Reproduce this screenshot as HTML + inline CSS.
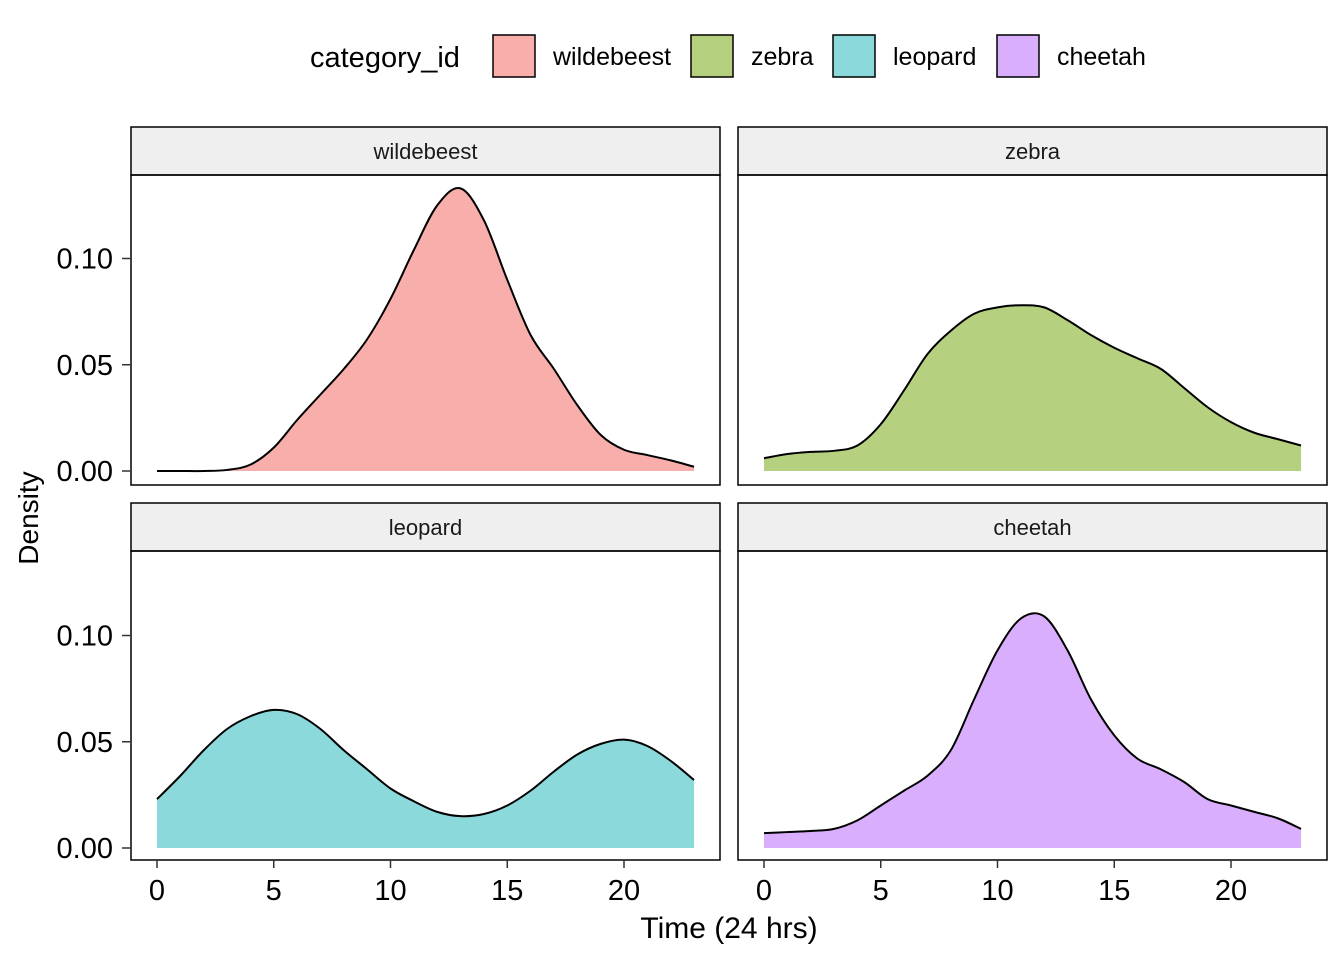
<!DOCTYPE html>
<html><head><meta charset="utf-8"><style>
body{margin:0;background:#fff}
svg{font-family:"Liberation Sans",Arial,sans-serif}
</style></head><body>
<svg id="chart" width="1344" height="960" viewBox="0 0 1344 960"></svg>
<script>
const categories=["wildebeest","zebra","leopard","cheetah"];
const hours=[0,1,2,3,4,5,6,7,8,9,10,11,12,13,14,15,16,17,18,19,20,21,22,23];
const wildebeest=[0,0,0,0.0005,0.003,0.011,0.024,0.036,0.048,0.062,0.081,0.104,0.125,0.133,0.118,0.090,0.064,0.048,0.031,0.017,0.010,0.0075,0.005,0.002];
const zebra=[0.006,0.008,0.009,0.0095,0.012,0.022,0.038,0.055,0.066,0.074,0.077,0.078,0.077,0.071,0.064,0.058,0.053,0.048,0.039,0.030,0.023,0.018,0.015,0.012];
const leopard=[0.023,0.034,0.046,0.056,0.062,0.065,0.063,0.056,0.046,0.037,0.028,0.022,0.017,0.015,0.016,0.020,0.027,0.036,0.044,0.049,0.051,0.048,0.041,0.032];
const cheetah=[0.007,0.0075,0.008,0.009,0.013,0.020,0.027,0.034,0.046,0.070,0.093,0.108,0.109,0.093,0.070,0.053,0.042,0.037,0.031,0.023,0.020,0.017,0.014,0.009];
const series=[wildebeest,zebra,leopard,cheetah];
const colors=["#F8AEAB","#B5D07F","#8BD9DB","#D9AEFD"];
const yTicks=[0,0.05,0.10];
const yTickLabels=["0.00","0.05","0.10"];
const xTicks=[0,5,10,15,20];

const svg=document.getElementById('chart');
const NS="http://www.w3.org/2000/svg";
function mk(tag,attrs,parent){const e=document.createElementNS(NS,tag);for(const k in attrs)e.setAttribute(k,attrs[k]);(parent||svg).appendChild(e);return e;}

const panels=[{x0:131,x1:720,y0:127,y1:485,base:471},{x0:738,x1:1327,y0:127,y1:485,base:471},{x0:131,x1:720,y0:503,y1:860,base:848},{x0:738,x1:1327,y0:503,y1:860,base:848}];
function xs(p,v){return p.x0+26+v*(467/20);}
function ys(p,v){return p.base-v*2125;}

panels.forEach((p,i)=>{
  const g=mk('g',{});
  
  
  const strip=mk('rect',{x:p.x0,y:p.y0,width:p.x1-p.x0,height:48,fill:'#EFEFEF',stroke:'#000','stroke-width':1.5},g);
  
  
  const st=mk('text',{x:(p.x0+p.x1)/2,y:p.y0+32,'text-anchor':'middle','font-size':22,fill:'#1a1a1a'},g);
  st.textContent=categories[i];
  
  
  const data=series[i];
  const pts=hours.map((h,k)=>[xs(p,h),ys(p,data[k])]);
  let d='M'+pts[0][0]+','+pts[0][1];
  for(let k=0;k<pts.length-1;k++){
    const p0=pts[Math.max(0,k-1)],p1=pts[k],p2=pts[k+1],p3=pts[Math.min(pts.length-1,k+2)];
    const c1=[p1[0]+(p2[0]-p0[0])/6,p1[1]+(p2[1]-p0[1])/6];
    const c2=[p2[0]-(p3[0]-p1[0])/6,p2[1]-(p3[1]-p1[1])/6];
    d+=` C${c1[0]},${c1[1]} ${c2[0]},${c2[1]} ${p2[0]},${p2[1]}`;
  }
  const base=ys(p,0);
  const area=mk('path',{d:d+` L${pts[pts.length-1][0]},${base} L${pts[0][0]},${base} Z`,fill:colors[i],stroke:'none'},g);
  
  
  const line=mk('path',{d:d,fill:'none',stroke:'#000','stroke-width':2},g);
  
  
  const border=mk('rect',{x:p.x0,y:p.y0+48,width:p.x1-p.x0,height:p.y1-p.y0-48,fill:'none',stroke:'#000','stroke-width':1.5},g);
  
  
  if(i%2===0){
    yTicks.forEach((t,k)=>{
      const y=ys(p,t);
      mk('line',{x1:p.x0-9,x2:p.x0,y1:y,y2:y,stroke:'#333','stroke-width':1.5},g);
      const tl=mk('text',{x:p.x0-18,y:y+10,'text-anchor':'end','font-size':29,fill:'#000'},g);
      tl.textContent=yTickLabels[k];
      
      
    });
  }
  if(i>=2){
    xTicks.forEach(t=>{
      const x=xs(p,t);
      mk('line',{x1:x,x2:x,y1:p.y1,y2:p.y1+8,stroke:'#333','stroke-width':1.5},g);
      const tl=mk('text',{x:x,y:p.y1+40,'text-anchor':'middle','font-size':29,fill:'#000'},g);
      tl.textContent=t;
      
      
    });
  }
});

const xt=mk('text',{x:729,y:938,'text-anchor':'middle','font-size':30,fill:'#000'});
xt.textContent='Time (24 hrs)';


const yt=mk('text',{x:38,y:518,'text-anchor':'middle','font-size':28,fill:'#000',transform:'rotate(-90 38 518)'});
yt.textContent='Density';



const lt=mk('text',{x:310,y:67,'font-size':29,fill:'#000'});
lt.textContent='category_id';


const legX=[493,691,833,997];
categories.forEach((c,i)=>{
  const g=mk('g',{});
  
  
  mk('rect',{x:legX[i],y:35,width:42,height:42,fill:colors[i],stroke:'#000','stroke-width':1.5},g);
  const t=mk('text',{x:legX[i]+60,y:65,'font-size':25,fill:'#000'},g);
  t.textContent=c;
});
</script>
</body></html>
